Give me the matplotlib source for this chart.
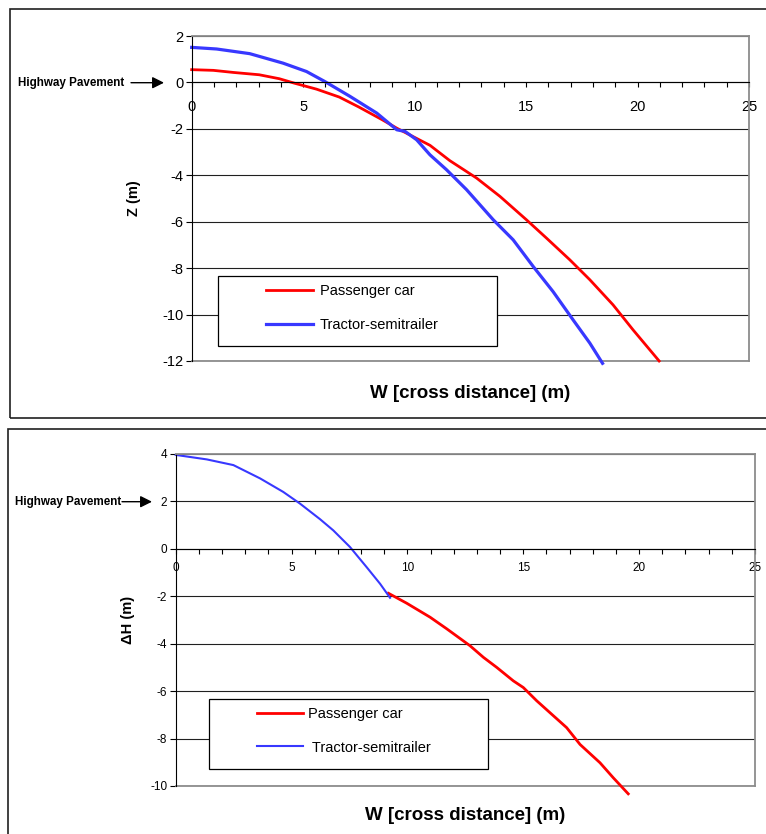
import matplotlib
matplotlib.use('Agg')
import matplotlib.pyplot as plt
from matplotlib.patches import Rectangle
from matplotlib.ticker import MultipleLocator

plt.rcParams['font.family'] = ['Liberation Sans', 'DejaVu Sans']
plt.rcParams['axes.unicode_minus'] = False

# top chart: Z (m) vs W (m)
car_w = [0, 0.97, 1.87, 3.03, 3.93, 4.6, 5.6, 6.62, 7.5, 8.55, 9.2, 9.34, 10.69,
         11.58, 12.78, 13.83, 15.02, 15.92, 16.96, 17.86, 18.9, 19.8, 20.97]
car_z = [0.55, 0.52, 0.43, 0.33, 0.16, -0.03, -0.29, -0.63, -1.06, -1.61, -1.97,
         -2.04, -2.71, -3.37, -4.12, -4.91, -5.92, -6.71, -7.64, -8.5, -9.58,
         -10.66, -12.0]
truck_w = [0, 1.12, 2.6, 4.1, 5.15, 5.97, 7.1, 8.3, 9.2, 9.57, 10.09, 10.69,
           11.43, 12.33, 13.53, 14.42, 15.32, 16.21, 17.11, 17.86, 18.43]
truck_z = [1.51, 1.44, 1.24, 0.83, 0.47, 0.04, -0.6, -1.32, -2.04, -2.11, -2.47,
           -3.12, -3.76, -4.62, -5.92, -6.78, -7.93, -9.01, -10.23, -11.23, -12.1]

# bottom chart: delta H (m) vs W (m)
truck2_w = [0, 1.34, 2.49, 3.64, 4.64, 5.36, 6.23, 6.8, 7.52, 8.24, 8.82, 9.25]
truck2_h = [3.95, 3.76, 3.52, 2.96, 2.39, 1.9, 1.24, 0.77, 0.07, -0.78, -1.48, -2.07]
car2_w = [9.18, 9.97, 10.98, 11.7, 12.7, 13.28, 13.85, 14.57, 15.0, 15.58, 16.15,
          16.87, 17.45, 18.31, 18.89, 19.53]
car2_h = [-1.88, -2.3, -2.89, -3.38, -4.09, -4.58, -5.0, -5.57, -5.85, -6.41,
          -6.91, -7.54, -8.25, -9.02, -9.66, -10.33]

top_yticks = [2, 0, -2, -4, -6, -8, -10, -12]
bot_yticks = [4, 2, 0, -2, -4, -6, -8, -10]
xticks = [0, 5, 10, 15, 20, 25]
labels = ['Passenger car', 'Tractor-semitrailer']

W, H = 766, 834
fig = plt.figure(figsize=(W / 100, H / 100), dpi=100)


def style_axes(ax, yticks, tick_fs, xpad):
    ax.set_xlim(0, 25)
    ax.set_ylim(min(yticks), max(yticks))
    ax.set_xticks(xticks)
    ax.xaxis.set_minor_locator(MultipleLocator(1))
    ax.set_yticks(yticks)
    ax.spines['bottom'].set_position(('data', 0))
    ax.spines['bottom'].set_color('black')
    ax.spines['left'].set_color('black')
    for s in ['top', 'right']:
        ax.spines[s].set_color('#8c8c8c')
        ax.spines[s].set_linewidth(1.3)
    ax.tick_params(axis='x', which='both', direction='out', length=3.5,
                   width=0.8, labelsize=tick_fs, pad=xpad)
    ax.tick_params(axis='y', direction='out', length=4, width=0.8,
                   labelsize=tick_fs, pad=2)
    ax.yaxis.grid(True, color='#202020', lw=0.8)
    # grey frame line along the bottom of the plot area
    ax.axhline(min(yticks), color='#8c8c8c', lw=1.3, clip_on=False)


def pavement_note(x_text, x0, x1, y):
    fy = (H - y) / H
    fig.text(x_text / W, fy, 'Highway Pavement', fontsize=8.4,
             fontweight='bold', ha='left', va='center')
    fig.add_artist(plt.Annotation(
        '', xy=(x1 / W, fy), xytext=(x0 / W, fy),
        xycoords='figure fraction', textcoords='figure fraction',
        arrowprops=dict(arrowstyle='-|>,head_length=0.7,head_width=0.35',
                        mutation_scale=10, color='black', lw=1,
                        shrinkA=0, shrinkB=0)))


# outer frames
fig.add_artist(Rectangle((10 / W, (H - 417.7) / H), 0.999, 408.7 / H,
                         transform=fig.transFigure, fill=False,
                         ec='#202020', lw=1.2, clip_on=False))
fig.add_artist(Rectangle((7.5 / W, -0.01), 0.999, (H - 429) / H + 0.01,
                         transform=fig.transFigure, fill=False,
                         ec='#202020', lw=1.2, clip_on=False))

# top panel
ax1 = fig.add_axes([191.7 / W, 1 - 361 / H, 557.3 / W, 325 / H])
style_axes(ax1, top_yticks, 10.5, 9)
ax1.plot(car_w, car_z, color='#ff0000', lw=2, clip_on=False, label=labels[0])
ax1.plot(truck_w, truck_z, color='#3838ff', lw=2.3, clip_on=False, label=labels[1])
ax1.set_ylabel('Z (m)', fontsize=10.5, fontweight='bold')
ax1.yaxis.set_label_coords(-0.091, 0.5)
ax1.set_xlabel('W [cross distance] (m)', fontsize=13.5, fontweight='bold')
ax1.xaxis.set_label_coords(0.5, -0.075)
ax1.add_patch(Rectangle((0.0472, 0.046), 0.5008, 0.2155, transform=ax1.transAxes,
                        fc='white', ec='black', lw=0.9, zorder=3))
ax1.legend(loc='upper left', bbox_to_anchor=(0.1333, 0.236), frameon=False,
           fontsize=10.5, handlelength=3.2, handletextpad=0.5, borderpad=0,
           borderaxespad=0, labelspacing=1.35)
pavement_note(18, 131, 164, 82.7)

# bottom panel
ax2 = fig.add_axes([175.7 / W, 1 - 786 / H, 579.3 / W, 332.3 / H])
style_axes(ax2, bot_yticks, 8.5, 6)
ax2.plot(car2_w, car2_h, color='#ff0000', lw=2, clip_on=False, label=labels[0])
ax2.plot(truck2_w, truck2_h, color='#3838ff', lw=1.5, clip_on=False,
         label=' ' + labels[1])
ax2.set_ylabel('\u0394H (m)', fontsize=10.5, fontweight='bold')
ax2.yaxis.set_label_coords(-0.07, 0.5)
ax2.set_xlabel('W [cross distance] (m)', fontsize=13.5, fontweight='bold')
ax2.xaxis.set_label_coords(0.5, -0.064)
ax2.add_patch(Rectangle((0.0575, 0.0512), 0.4816, 0.2107, transform=ax2.transAxes,
                        fc='white', ec='black', lw=0.9, zorder=3))
ax2.legend(loc='upper left', bbox_to_anchor=(0.1398, 0.238), frameon=False,
           fontsize=10.5, handlelength=3.2, handletextpad=0.3, borderpad=0,
           borderaxespad=0, labelspacing=1.35)
pavement_note(15, 122, 152, 501.7)

fig.savefig('out.png', dpi=100)
